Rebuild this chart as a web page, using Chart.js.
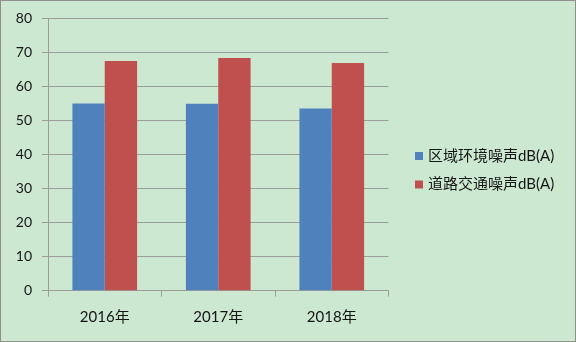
<!DOCTYPE html>
<html>
<head>
<meta charset="utf-8">
<script src="https://cdn.jsdelivr.net/npm/chart.js@4/dist/chart.umd.min.js"></script>
<style>
  html, body { margin: 0; padding: 0; background: #cde8d1; }
  #wrap { width: 576px; height: 342px; }
</style>
</head>
<body>
<div id="wrap"><canvas id="noiseChart" width="576" height="342"></canvas></div>
<script>
const years = ['2016年', '2017年', '2018年'];
const seriesNames = ['区域环境噪声dB(A)', '道路交通噪声dB(A)'];
const areaNoise = [55.0, 54.9, 53.5];
const roadNoise = [67.5, 68.4, 66.9];
const yTicks = [0, 10, 20, 30, 40, 50, 60, 70, 80];

const FONT = 'Lato, "Noto Sans CJK SC", sans-serif';
const GRID = '#9a9d9a';
const TEXT = '#151515';

// page background, outer frame and the legend on the right
const frameAndLegend = {
  id: 'frameAndLegend',
  beforeDraw(chart) {
    const ctx = chart.ctx;
    ctx.save();
    ctx.fillStyle = '#cde8d1';
    ctx.fillRect(0, 0, chart.width, chart.height);
    ctx.strokeStyle = '#8f8f8f';
    ctx.lineWidth = 1;
    ctx.strokeRect(0.5, 0.5, chart.width - 1, chart.height - 1);
    ctx.restore();
  },
  afterDraw(chart) {
    const ctx = chart.ctx;
    ctx.save();
    ctx.font = '15px ' + FONT;
    ctx.textBaseline = 'middle';
    chart.data.datasets.forEach((ds, i) => {
      const y = 156 + i * 28.5;
      ctx.fillStyle = ds.backgroundColor;
      ctx.fillRect(415, y - 4, 8, 8);
      ctx.fillStyle = TEXT;
      ctx.fillText(ds.label, 428, y);
    });
    ctx.restore();
  }
};

new Chart(document.getElementById('noiseChart'), {
  type: 'bar',
  data: {
    labels: years,
    datasets: [
      { label: seriesNames[0], data: areaNoise, backgroundColor: '#4f81bd', borderWidth: 0 },
      { label: seriesNames[1], data: roadNoise, backgroundColor: '#c0504d', borderWidth: 0 }
    ]
  },
  options: {
    responsive: false,
    animation: false,
    layout: { padding: { left: 0, top: 12, right: 187.5, bottom: 0 } },
    datasets: { bar: { categoryPercentage: 0.57, barPercentage: 1.0 } },
    plugins: { legend: { display: false }, tooltip: { enabled: false } },
    scales: {
      x: {
        grid: { offset: true, drawOnChartArea: false, drawTicks: true, tickLength: 6, color: GRID },
        border: { color: GRID },
        ticks: { color: TEXT, font: { family: FONT, size: 15 }, padding: 11 },
        afterFit(scale) { scale.height = 51.3; }
      },
      y: {
        min: 0, max: 80,
        afterBuildTicks(scale) { scale.ticks = yTicks.map(v => ({ value: v })); },
        grid: { color: GRID, tickLength: 6 },
        border: { color: GRID },
        ticks: { color: TEXT, font: { family: FONT, size: 14 }, padding: 10 },
        afterFit(scale) { scale.width = 48; }
      }
    }
  },
  plugins: [frameAndLegend]
});
</script>
</body>
</html>
